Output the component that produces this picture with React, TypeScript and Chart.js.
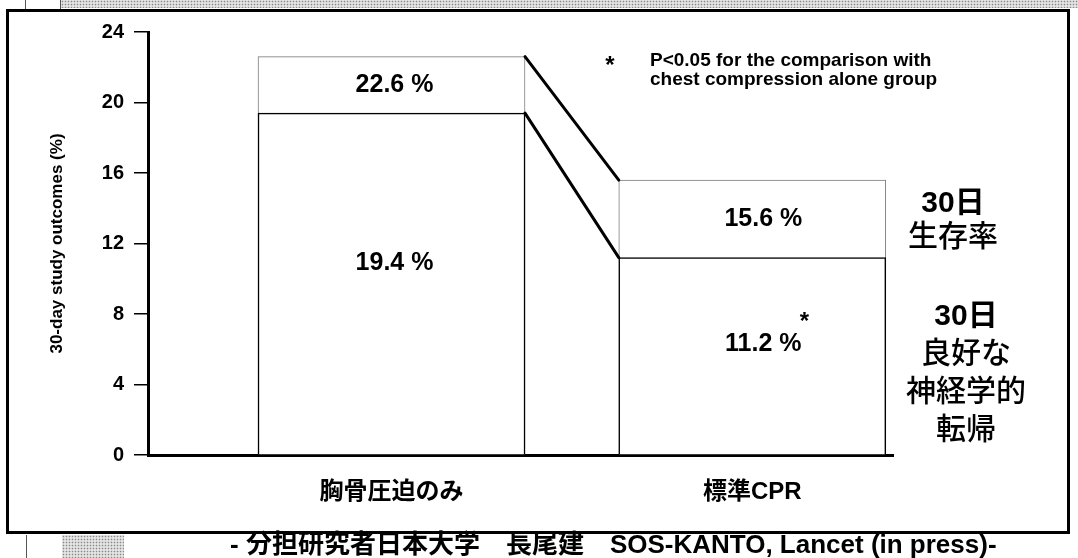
import React, { useEffect, useRef } from 'react';
import { Chart, registerables } from 'chart.js';

Chart.register(...registerables);

// ---- data ----
const categories = ['胸骨圧迫のみ', '標準CPR'];
const survival30 = [22.6, 15.6];
const goodNeuro30 = [19.4, 11.2];
const seriesNames = ['30日生存率', '30日良好な神経学的転帰'];
const neuroSignificant = [false, true];
const yTicks = [0, 4, 8, 12, 16, 20, 24];
const yTitle = '30-day study outcomes (%)';
const noteMark = '*';
const noteLines = ['P<0.05 for the comparison with', 'chest compression alone group'];
const survivalSideLines = ['30日', '生存率'];
const neuroSideLines = ['30日', '良好な', '神経学的', '転帰'];
const footerText = '- 分担研究者日本大学　長尾建　SOS-KANTO, Lancet (in press)-';

const FAMILY = "'Liberation Sans', Arial, 'Noto Sans CJK JP', sans-serif";

const annotPlugin = {
  id: 'annot',
  afterDatasetsDraw(chart: any) {
    const ctx: CanvasRenderingContext2D = chart.ctx;
    const up = chart.getDatasetMeta(0).data;
    const lo = chart.getDatasetMeta(1).data;
    const base = chart.scales.y.getPixelForValue(0);
    ctx.save();
    // connectors between bar tops
    ctx.strokeStyle = '#000';
    ctx.lineWidth = 3;
    ctx.lineCap = 'round';
    for (const els of [up, lo]) {
      const a = els[0];
      const b = els[1];
      ctx.beginPath();
      ctx.moveTo(a.x + a.width / 2, a.y);
      ctx.lineTo(b.x - b.width / 2, b.y);
      ctx.stroke();
    }
    // value labels
    const dx = [3, 11];
    ctx.fillStyle = '#000';
    ctx.textAlign = 'center';
    ctx.textBaseline = 'middle';
    for (let i = 0; i < categories.length; i++) {
      const u = up[i];
      const l = lo[i];
      const x = u.x + dx[i];
      ctx.font = `bold 25px ${FAMILY}`;
      ctx.fillText(`${survival30[i]} %`, x, (u.y + l.y) / 2);
      const ly = l.y + 0.44 * (base - l.y);
      ctx.fillText(`${goodNeuro30[i]} %`, x, ly);
      if (neuroSignificant[i]) {
        ctx.save();
        ctx.textBaseline = 'alphabetic';
        ctx.font = `bold 24px ${FAMILY}`;
        ctx.fillText(noteMark, x + 41, ly - 15);
        ctx.restore();
      }
    }
    // top note
    ctx.textAlign = 'center';
    ctx.textBaseline = 'alphabetic';
    ctx.font = `bold 24px ${FAMILY}`;
    ctx.fillText(noteMark, 610, 73);
    ctx.textAlign = 'left';
    ctx.textBaseline = 'middle';
    ctx.font = `bold 19px ${FAMILY}`;
    noteLines.forEach((t, i) => ctx.fillText(t, 650, 61 + i * 19));
    // side labels
    ctx.textAlign = 'center';
    survivalSideLines.forEach((t, i) => {
      ctx.font = `${i === 0 ? 'bold' : '500'} 30px ${FAMILY}`;
      ctx.fillText(t, 953, 204 + i * 34);
    });
    neuroSideLines.forEach((t, i) => {
      ctx.font = `${i === 0 ? 'bold' : '500'} 30px ${FAMILY}`;
      ctx.fillText(t, 966, 317 + i * 38);
    });
    ctx.restore();
  },
};

export default function App() {
  const ref = useRef<HTMLCanvasElement | null>(null);

  useEffect(() => {
    if (!ref.current) return;
    const chart = new Chart(ref.current, {
      type: 'bar',
      data: {
        datasets: [
          {
            label: seriesNames[0],
            data: categories.map((_, i) => ({ x: i, y: survival30[i] })),
            backgroundColor: '#ffffff',
            borderColor: '#7a7a7a',
            borderWidth: 1,
            borderSkipped: 'bottom',
            barThickness: 267,
            grouped: false,
            order: 2,
          } as any,
          {
            label: seriesNames[1],
            data: categories.map((_, i) => ({ x: i, y: goodNeuro30[i] })),
            backgroundColor: '#ffffff',
            borderColor: '#000000',
            borderWidth: 1.5,
            borderSkipped: 'bottom',
            barThickness: 267,
            grouped: false,
            order: 1,
          } as any,
        ],
      },
      options: {
        animation: false,
        responsive: false,
        maintainAspectRatio: false,
        layout: { padding: { left: 0, right: 185, top: 32, bottom: 0 } },
        plugins: {
          legend: { display: false },
          tooltip: { enabled: false },
        },
        scales: {
          x: {
            type: 'linear',
            offset: false,
            min: -0.675,
            max: 1.39,
            afterBuildTicks: (s: any) => {
              s.ticks = categories.map((_, i) => ({ value: i }));
            },
            afterFit: (s: any) => {
              s.height = 103;
            },
            ticks: {
              callback: (v: any) => categories[v as number] ?? '',
              color: '#000',
              font: { family: FAMILY, size: 24, weight: 'bold' },
              padding: 15,
              maxRotation: 0,
              autoSkip: false,
            },
            grid: { display: false },
            border: { display: true, color: '#000', width: 3 },
          },
          y: {
            min: 0,
            max: 24,
            afterBuildTicks: (s: any) => {
              s.ticks = yTicks.map((v) => ({ value: v }));
            },
            afterFit: (s: any) => {
              s.width = 148;
            },
            ticks: {
              color: '#000',
              font: { family: FAMILY, size: 20, weight: 'bold' },
              padding: 10,
            },
            grid: {
              drawOnChartArea: false,
              drawTicks: true,
              tickLength: 14,
              color: '#000',
              lineWidth: 1.5,
            },
            border: { display: true, color: '#000', width: 3 },
            title: {
              display: true,
              text: yTitle,
              color: '#000',
              font: { family: FAMILY, size: 17, weight: 'bold' },
              padding: { top: 47, bottom: 0 },
            },
          },
        },
      } as any,
      plugins: [annotPlugin],
    });
    return () => chart.destroy();
  }, []);

  const texture =
    'radial-gradient(#8a8a8a 0.7px, transparent 1.1px) 0 0/3px 3px, #e4e4e4';

  return (
    <div style={{ position: 'absolute', left: 0, top: 0, width: 1078, height: 558, background: '#fff', overflow: 'hidden' }}>
      {/* top strip */}
      <div style={{ position: 'absolute', left: 61, top: 0, width: 1017, height: 8, background: texture }} />
      <div style={{ position: 'absolute', left: 25, top: 0, width: 1, height: 10, background: '#555' }} />
      <div style={{ position: 'absolute', left: 60, top: 0, width: 1, height: 10, background: '#555' }} />
      {/* bottom strip */}
      <div style={{ position: 'absolute', left: 62, top: 535, width: 62, height: 23, background: texture }} />
      <div style={{ position: 'absolute', left: 26, top: 535, width: 1, height: 23, background: '#555' }} />
      {/* frame */}
      <div style={{ position: 'absolute', left: 6, top: 9, width: 1058, height: 519, border: '3px solid #000' }} />
      <canvas ref={ref} width={1078} height={558} style={{ position: 'absolute', left: 0, top: 0, width: 1078, height: 558 }} />
      <div
        style={{
          position: 'absolute',
          left: 230,
          top: 531,
          fontFamily: FAMILY,
          fontWeight: 'bold',
          fontSize: 26,
          lineHeight: '26px',
          whiteSpace: 'pre',
          color: '#000',
        }}
      >
        {footerText}
      </div>
    </div>
  );
}
